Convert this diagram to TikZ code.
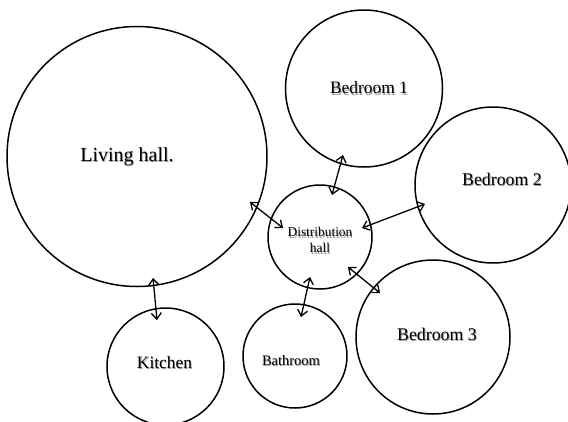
\documentclass[tikz,border=0pt]{standalone}
\usepackage{fontspec}
\setmainfont{Liberation Serif}
\usetikzlibrary{arrows.meta}
\newcommand\shtext[1]{\leavevmode\rlap{\kern0.8pt\raisebox{-1.3pt}{\textcolor{black!40}{#1}}}#1}
\begin{document}
\begin{tikzpicture}[x=1pt,y=-1pt,
  room/.style={circle,draw,line width=1.5pt,inner sep=0pt},
  txt/.style={inner sep=0pt,align=center},
  link/.style={line width=1.3pt,{Straight Barb[length=6pt,width=10pt]}-{Straight Barb[length=6pt,width=10pt]}}]
\useasboundingbox (0,0) rectangle (568,421);
\clip (0,0) rectangle (568,421);
\fill[white] (0,0) rectangle (568,421);
% rooms
\node[room,minimum size=260pt] (lh) at (137,156.5) {};
\node[room,minimum size=157pt] (b1) at (364,88.5) {};
\node[room,minimum size=156pt] (b2) at (493,185) {};
\node[room,minimum size=104pt] (dh) at (320,237) {};
\node[room,minimum size=154pt] (b3) at (433,337) {};
\node[room,minimum size=117pt] (kt) at (165.5,366.5) {};
\node[room,minimum size=104pt] (ba) at (295,356) {};
% labels
\node[txt,font=\fontsize{20}{24}\selectfont] (lht) at ([shift={(-10,0.5)}]lh.center) {\shtext{Living hall.}};
\node[txt,font=\fontsize{17.4}{20}\selectfont] (b1t) at ([shift={(5,0)}]b1.center) {\shtext{Bedroom 1}};
\node[txt,font=\fontsize{17.8}{20}\selectfont] (b2t) at ([shift={(9,-5)}]b2.center) {\shtext{Bedroom 2}};
\node[txt,font=\fontsize{13.4}{16}\selectfont] (dht) at ([shift={(0,4)}]dh.center) {\shtext{Distribution}\\\shtext{hall}};
\node[txt,font=\fontsize{17.8}{20}\selectfont] (b3t) at ([shift={(4,-2)}]b3.center) {\shtext{Bedroom 3}};
\node[txt,font=\fontsize{17.4}{20}\selectfont] (ktt) at ([shift={(-1,-3.5)}]kt.center) {\shtext{Kitchen}};
\node[txt,font=\fontsize{14.5}{17}\selectfont] (bat) at ([shift={(-4,5)}]ba.center) {\shtext{Bathroom}};
% connectors
\draw[link] ([shift={(113,45.5)}]lh.center) -- ([shift={(-37,-9)}]dh.center);
\draw[link] ([shift={(-21,66.5)}]b1.center) -- ([shift={(12,-42)}]dh.center);
\draw[link] ([shift={(-68,19)}]b2.center) -- ([shift={(42,-9)}]dh.center);
\draw[link] ([shift={(28,30)}]dh.center) -- ([shift={(-53,-44)}]b3.center);
\draw[link] ([shift={(-10,40)}]dh.center) -- ([shift={(6,-39)}]ba.center);
\draw[link] ([shift={(16,121.5)}]lh.center) -- ([shift={(-8.5,-46.5)}]kt.center);
\end{tikzpicture}
\end{document}
